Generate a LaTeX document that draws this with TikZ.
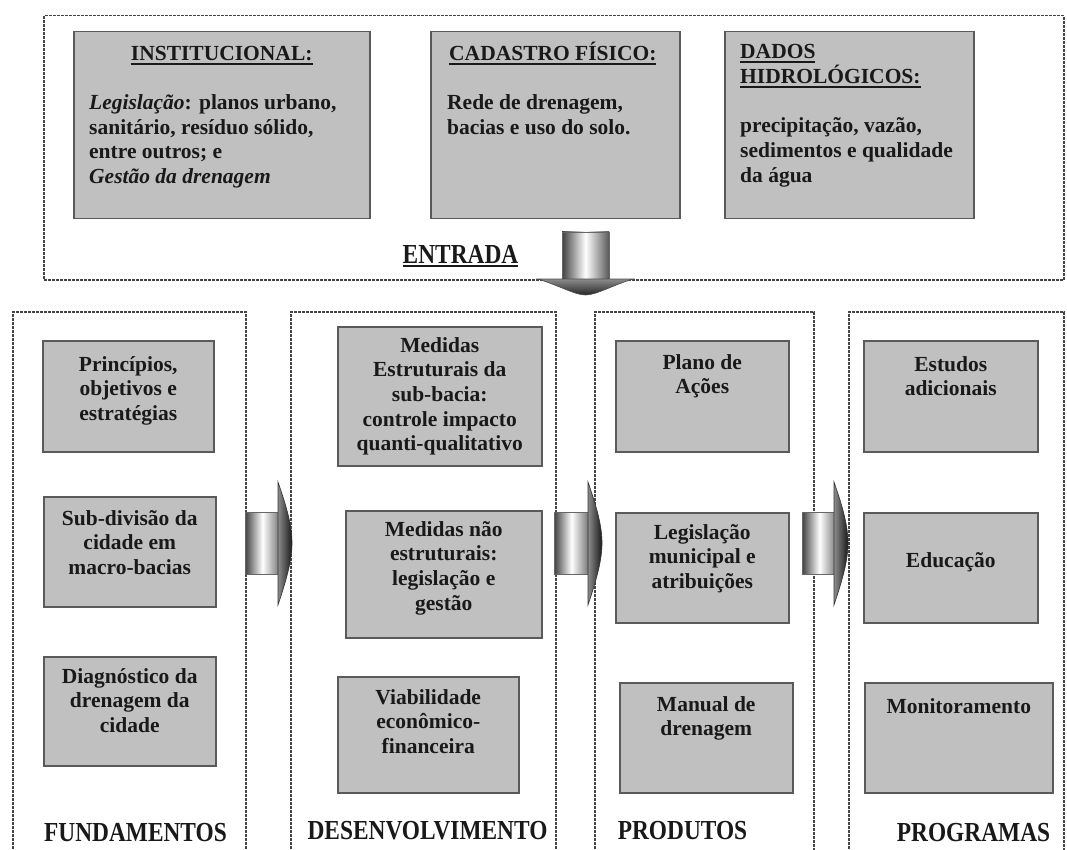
\documentclass[tikz,border=0pt]{standalone}
\usepackage{fontspec}
\setmainfont{Liberation Serif}
\newfontfamily\labelfont[FakeStretch=0.85]{Liberation Serif}
\usetikzlibrary{positioning,calc}
\definecolor{cellgray}{RGB}{192,192,192}
\definecolor{celledge}{RGB}{90,90,90}
\definecolor{zonegray}{RGB}{70,70,70}
\definecolor{inkgray}{RGB}{25,25,25}
\newcommand{\hdrule}[1]{\vtop{\hbox{#1}\kern2pt\hrule height 1.8pt}}

\begin{document}
\begin{tikzpicture}[
    x=1pt, y=-1pt,
    zone/.style={draw=zonegray,line width=1.5pt,dash pattern=on 3pt off 1pt,anchor=north west,inner sep=0},
    cell/.style={draw=celledge,fill=cellgray,line width=1.5pt,anchor=north west,inner sep=0},
    celltext/.style={align=center,anchor=base,inner sep=0,text=inkgray,font=\fontsize{21.5}{24.7}\selectfont\bfseries},
    bodytext/.style={align=left,anchor=base west,inner sep=0,text=inkgray,font=\fontsize{21.5}{24.7}\selectfont\bfseries},
    phase/.style={anchor=base,inner sep=0,text=inkgray,font=\labelfont\fontsize{27.5}{30}\selectfont\bfseries}
]
\useasboundingbox (0,0) rectangle (1067,850);

% entrada (multi-line text: base = last line)
\node[zone,minimum width=1020pt,minimum height=264pt] (entrada) at (43,15) {};
\node[cell,minimum width=296pt,minimum height=187pt] (inst) at (73,31) {};
\node[cell,minimum width=249pt,minimum height=187pt] (cad) at (430,31) {};
\node[cell,minimum width=249pt,minimum height=187pt] (dados) at (724,31) {};

\node[celltext] (insthead) at ([shift={(0,30)}]inst.north) {\hdrule{INSTITUCIONAL:}};
\node[bodytext] (insttext) at ([shift={(16,152.6)}]inst.north west) {\textit{Legislação}: planos urbano,\\sanitário, resíduo sólido,\\entre outros; e\\\textit{Gestão da drenagem}};
\node[bodytext] (cadhead) at ([shift={(19,30)}]cad.north west) {\hdrule{CADASTRO FÍSICO:}};
\node[bodytext] (cadtext) at ([shift={(17,103.2)}]cad.north west) {Rede de drenagem,\\bacias e uso do solo.};
\node[bodytext] (dadoshead) at ([shift={(16,52.7)}]dados.north west) {\hdrule{DADOS}\\\hdrule{HIDROLÓGICOS:}};
\node[bodytext] (dadostext) at ([shift={(16,151.4)}]dados.north west) {precipitação, vazão,\\sedimentos e qualidade\\da água};

\node[phase] (entradalbl) at (460.5,263) {\hdrule{ENTRADA}};

% columns
\node[zone,minimum width=233pt,minimum height=560pt] (fund) at (12,311) {};
\node[zone,minimum width=265pt,minimum height=560pt] (desenv) at (290,311) {};
\node[zone,minimum width=219pt,minimum height=560pt] (prod) at (594,311) {};
\node[zone,minimum width=215pt,minimum height=560pt] (prog) at (848,311) {};

\node[cell,minimum width=171pt,minimum height=111pt] (princ) at (42,340) {};
\node[cell,minimum width=172pt,minimum height=110pt] (subdiv) at (43,496) {};
\node[cell,minimum width=172pt,minimum height=109pt] (diag) at (43,656) {};
\node[cell,minimum width=204pt,minimum height=139pt] (mest) at (337,326) {};
\node[cell,minimum width=196pt,minimum height=127pt] (mnao) at (345,510) {};
\node[cell,minimum width=181pt,minimum height=116pt] (viab) at (337,676) {};
\node[cell,minimum width=173pt,minimum height=111pt] (plano) at (615,340) {};
\node[cell,minimum width=173pt,minimum height=110pt] (legis) at (615,512) {};
\node[cell,minimum width=173pt,minimum height=110pt] (manual) at (619,682) {};
\node[cell,minimum width=174pt,minimum height=111pt] (estud) at (863,340) {};
\node[cell,minimum width=174pt,minimum height=110pt] (educ) at (863,512) {};
\node[cell,minimum width=188pt,minimum height=110pt] (monit) at (864,682) {};

\node[celltext] (princtext) at ([shift={(0,80.4)}]princ.north) {Princípios,\\objetivos e\\estratégias};
\node[celltext] (subdivtext) at ([shift={(0,78.4)}]subdiv.north) {Sub-divisão da\\cidade em\\macro-bacias};
\node[celltext] (diagtext) at ([shift={(0,76.4)}]diag.north) {Diagnóstico da\\drenagem da\\cidade};
\node[celltext] (mesttext) at ([shift={(0,124.8)}]mest.north) {Medidas\\Estruturais da\\sub-bacia:\\controle impacto\\quanti-qualitativo};
\node[celltext] (mnaotext) at ([shift={(0,100.1)}]mnao.north) {Medidas não\\estruturais:\\legislação e\\gestão};
\node[celltext] (viabtext) at ([shift={(0,77.4)}]viab.north) {Viabilidade\\econômico-\\financeira};
\node[celltext] (planotext) at ([shift={(0,53.7)}]plano.north) {Plano de\\Ações};
\node[celltext] (legistext) at ([shift={(0,76.4)}]legis.north) {Legislação\\municipal e\\atribuições};
\node[celltext] (manualtext) at ([shift={(0,53.7)}]manual.north) {Manual de\\drenagem};
\node[celltext] (estudtext) at ([shift={(0,55.7)}]estud.north) {Estudos\\adicionais};
\node[celltext] (eductext) at ([shift={(0,55)}]educ.north) {Educação};
\node[celltext] (monittext) at ([shift={(0,31)}]monit.north) {Monitoramento};

\node[phase] (fundlbl) at (135.5,841) {FUNDAMENTOS};
\node[phase] (desenvlbl) at (427.5,839) {DESENVOLVIMENTO};
\node[phase] (prodlbl) at (682.5,839) {PRODUTOS};
\node[phase] (proglbl) at (973.5,841) {PROGRAMAS};

% block arrows
\shade[left color=black!75,right color=black!65,middle color=white,draw=black!60,line width=0.6pt] (562,232) rectangle (609,279);
\shade[top color=black!45,bottom color=black!85,draw=black!70,line width=0.6pt] (538,279) .. controls (560,286) and (575,295) .. (585.5,295) .. controls (596,295) and (611,286) .. (633,279) -- cycle;
\foreach \xa/\xt in {245/292,554/602,802/848}{
  \shade[left color=black!75,right color=black!55,middle color=white,draw=black!60,line width=0.6pt] (\xa,512) rectangle (\xa+35,574);
  \shade[left color=black!45,right color=black!90,draw=black!80,line width=0.6pt] (\xt-14,482) .. controls (\xt-6,505) and (\xt,525) .. (\xt,543) .. controls (\xt,561) and (\xt-6,581) .. (\xt-14,605) -- cycle;
}
\end{tikzpicture}
\end{document}
